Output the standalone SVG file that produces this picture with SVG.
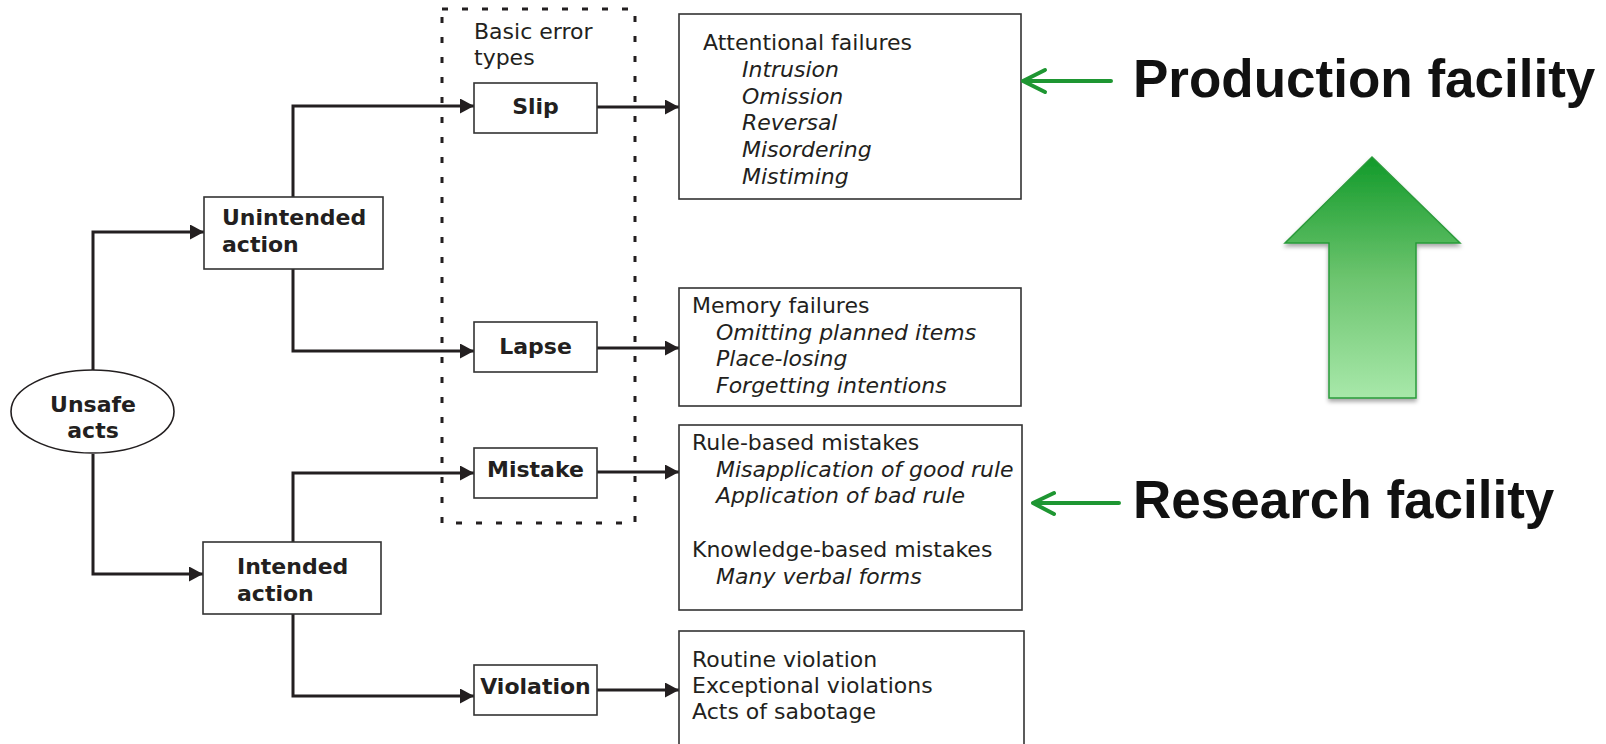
<svg xmlns="http://www.w3.org/2000/svg" width="1606" height="744" viewBox="0 0 1606 744">
<style>
.box{fill:#fff;stroke:#333;stroke-width:1.6}
.lbl{font-family:"DejaVu Sans",Verdana,sans-serif;font-size:22px;font-weight:bold;fill:#231f20}
.txt{font-family:"DejaVu Sans",Verdana,sans-serif;font-size:22px;fill:#231f20}
.it{font-style:italic}
.conn{fill:none;stroke:#231f20;stroke-width:3}
.big{font-family:"Liberation Sans",Arial,sans-serif;font-size:53px;font-weight:bold;fill:#111}
.garr{fill:none;stroke:#1e9632;stroke-width:4;stroke-linecap:round;stroke-linejoin:round}
</style>
<defs>
<marker id="ah" viewBox="0 0 14 15" refX="14" refY="7.5" markerWidth="14" markerHeight="15" markerUnits="userSpaceOnUse" orient="auto">
<path d="M0,0 L14,7.5 L0,15 Z" fill="#231f20"/>
</marker>
<linearGradient id="gg" x1="0" y1="0" x2="0" y2="1">
<stop offset="0" stop-color="#129a2a"/>
<stop offset="0.5" stop-color="#6cc46e"/>
<stop offset="1" stop-color="#a8e8aa"/>
</linearGradient>
<filter id="sh" x="-20%" y="-20%" width="140%" height="140%">
<feDropShadow dx="0" dy="3" stdDeviation="2" flood-color="#000" flood-opacity="0.35"/>
</filter>
</defs>

<g id="group-basic">
<rect x="442" y="9" width="193" height="514" fill="none" stroke="#231f20" stroke-width="3" stroke-dasharray="6 14"/>
<text class="txt" x="474" y="39">Basic error</text>
<text class="txt" x="474" y="65">types</text>
</g>

<g id="connectors">
<path class="conn" d="M93,370 V232 H204" marker-end="url(#ah)"/>
<path class="conn" d="M93,454 V574 H203" marker-end="url(#ah)"/>
<path class="conn" d="M293,197 V106 H474" marker-end="url(#ah)"/>
<path class="conn" d="M293,269 V351 H474" marker-end="url(#ah)"/>
<path class="conn" d="M293,542 V473 H474" marker-end="url(#ah)"/>
<path class="conn" d="M293,614 V696 H474" marker-end="url(#ah)"/>
<path class="conn" d="M597,107 H679" marker-end="url(#ah)"/>
<path class="conn" d="M597,348 H679" marker-end="url(#ah)"/>
<path class="conn" d="M597,472 H679" marker-end="url(#ah)"/>
<path class="conn" d="M597,690 H679" marker-end="url(#ah)"/>
</g>

<g id="unsafe-acts">
<ellipse cx="92.5" cy="411.5" rx="81.5" ry="41.5" fill="#fff" stroke="#231f20" stroke-width="1.6"/>
<text class="lbl" x="93" y="412" text-anchor="middle">Unsafe</text>
<text class="lbl" x="93" y="438" text-anchor="middle">acts</text>
</g>

<g id="unintended-action">
<rect class="box" x="204" y="197" width="179" height="72"/>
<text class="lbl" x="222" y="225">Unintended</text>
<text class="lbl" x="222" y="252">action</text>
</g>

<g id="intended-action">
<rect class="box" x="203" y="542" width="178" height="72"/>
<text class="lbl" x="237" y="574">Intended</text>
<text class="lbl" x="237" y="601">action</text>
</g>

<g id="slip">
<rect class="box" x="474" y="83" width="123" height="50"/>
<text class="lbl" x="535.5" y="114" text-anchor="middle">Slip</text>
</g>
<g id="lapse">
<rect class="box" x="474" y="322" width="123" height="50"/>
<text class="lbl" x="535.5" y="354" text-anchor="middle">Lapse</text>
</g>
<g id="mistake">
<rect class="box" x="474" y="448" width="123" height="50"/>
<text class="lbl" x="535.5" y="477" text-anchor="middle">Mistake</text>
</g>
<g id="violation">
<rect class="box" x="474" y="665" width="123" height="50"/>
<text class="lbl" x="535.5" y="694" text-anchor="middle">Violation</text>
</g>

<g id="attentional">
<rect class="box" x="679" y="14" width="342" height="185"/>
<text class="txt" x="703" y="50">Attentional failures</text>
<text class="txt it" x="742" y="77">Intrusion</text>
<text class="txt it" x="742" y="104">Omission</text>
<text class="txt it" x="742" y="130">Reversal</text>
<text class="txt it" x="742" y="157">Misordering</text>
<text class="txt it" x="742" y="184">Mistiming</text>
</g>

<g id="memory">
<rect class="box" x="679" y="288" width="342" height="118"/>
<text class="txt" x="692" y="313">Memory failures</text>
<text class="txt it" x="716" y="340">Omitting planned items</text>
<text class="txt it" x="716" y="366">Place-losing</text>
<text class="txt it" x="716" y="393">Forgetting intentions</text>
</g>

<g id="rule">
<rect class="box" x="679" y="425" width="343" height="185"/>
<text class="txt" x="692" y="450">Rule-based mistakes</text>
<text class="txt it" x="716" y="477">Misapplication of good rule</text>
<text class="txt it" x="716" y="503">Application of bad rule</text>
<text class="txt" x="692" y="557">Knowledge-based mistakes</text>
<text class="txt it" x="716" y="584">Many verbal forms</text>
</g>

<g id="violations-box">
<rect class="box" x="679" y="631" width="345" height="130"/>
<text class="txt" x="692" y="667">Routine violation</text>
<text class="txt" x="692" y="693">Exceptional violations</text>
<text class="txt" x="692" y="719">Acts of sabotage</text>
</g>

<g id="production">
<path class="garr" d="M1111,81 H1023 M1045,70 L1023,81 L1045,92"/>
<text class="big" x="1133" y="97">Production facility</text>
</g>

<g id="research">
<path class="garr" d="M1119,503 H1033 M1054,493 L1033,503 L1054,514"/>
<text class="big" x="1133" y="518">Research facility</text>
</g>

<g id="up-arrow">
<path d="M1372,157 L1460,243 L1416,243 L1416,398 L1329,398 L1329,243 L1285,243 Z" fill="url(#gg)" stroke="#2a9a3a" stroke-width="1.5" filter="url(#sh)"/>
</g>
</svg>
